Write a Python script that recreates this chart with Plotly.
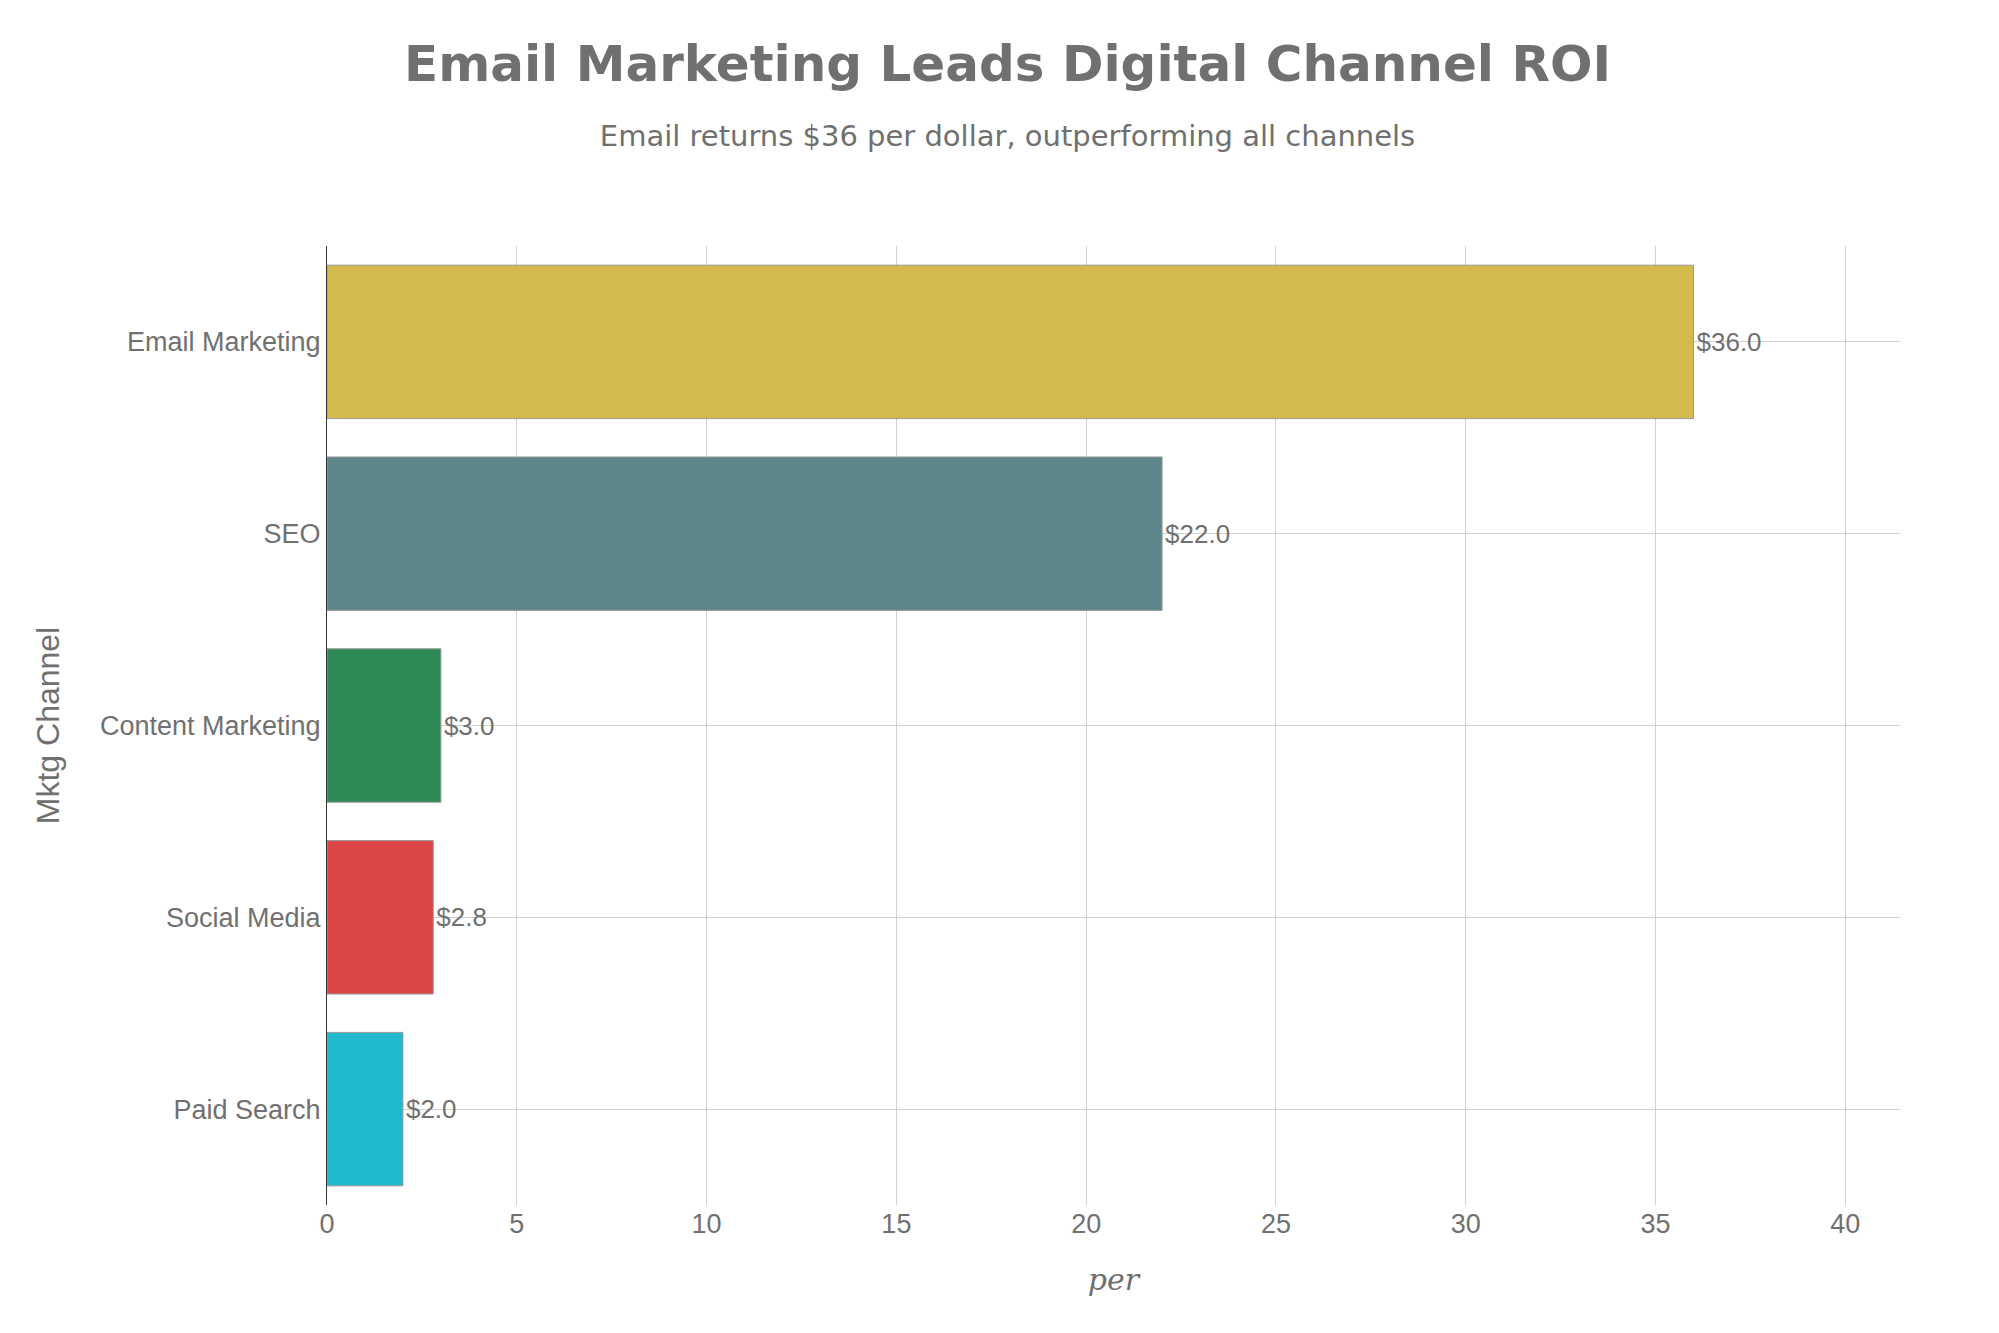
import plotly.graph_objects as go

channels = ["Email Marketing", "SEO", "Content Marketing", "Social Media", "Paid Search"]
roi = [36.0, 22.0, 3.0, 2.8, 2.0]
colors = ["#D2BA4C", "#5D878A", "#2E8B57", "#DB4545", "#1FB8CD"]

fig = go.Figure()
fig.add_trace(go.Bar(
    y=channels, x=roi, orientation="h",
    marker=dict(color=colors, line=dict(color="#999999", width=1)),
    text=[f"${v:.1f}" for v in roi], textposition="outside",
    textfont=dict(size=26, color="#707070"), cliponaxis=False,
    width=0.8,
))

fig.update_layout(
    width=1999, height=1333,
    paper_bgcolor="white", plot_bgcolor="white",
    font=dict(family="Liberation Sans, Arial", color="#707070", size=24),
    title=dict(
        text="<b>Email Marketing Leads Digital Channel ROI</b><br>"
             "<span style='font-size:29px;font-family:DejaVu Sans'>Email returns $36 per dollar, outperforming all channels</span>",
        x=0.5, xanchor="center", y=0.945, yanchor="top",
        font=dict(size=50, family="DejaVu Sans", color="#707070"),
    ),
    margin=dict(l=319, r=107, t=238, b=136),
    showlegend=False,
)
fig.update_xaxes(
    range=[0, 41.44], dtick=5, showgrid=True, gridcolor="#d0d0d0", gridwidth=1,
    zeroline=False, tickfont=dict(size=27),
    title=dict(text="<i>per</i>", font=dict(family="DejaVu Serif", size=30), standoff=30),
)
fig.update_yaxes(
    categoryorder="array", categoryarray=channels[::-1],
    showgrid=True, gridcolor="#d0d0d0", showline=True, linecolor="#333333",
    tickfont=dict(size=27), ticks="", ticklen=8,
    title=dict(text="Mktg Channel", font=dict(size=32), standoff=30),
)

fig.write_html("out.html")
